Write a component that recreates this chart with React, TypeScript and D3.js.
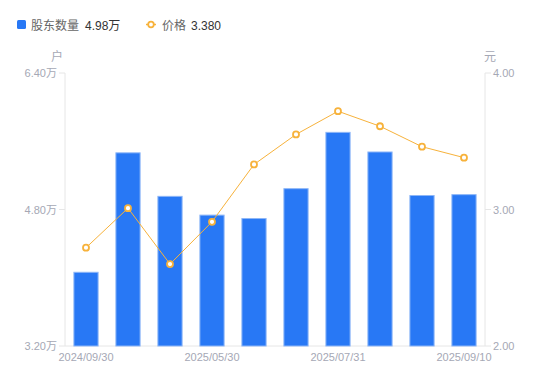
import React from "react";
import * as d3 from "d3";

const categories = [
  "2024/09/30", "2024/12/31", "2025/03/31", "2025/05/30", "2025/06/20",
  "2025/06/30", "2025/07/31", "2025/08/20", "2025/08/31", "2025/09/10",
];
const holders = [4.07, 5.47, 4.96, 4.74, 4.70, 5.05, 5.71, 5.48, 4.97, 4.98];
const prices = [2.72, 3.01, 2.60, 2.91, 3.33, 3.55, 3.72, 3.61, 3.46, 3.38];
const leftTicks = [3.2, 4.8, 6.4];
const rightTicks = [2.0, 3.0, 4.0];
const shownLabels = ["2024/09/30", "2025/05/30", "2025/07/31", "2025/09/10"];

const W = 550, H = 381;
const M = { left: 65, right: 65, top: 73, bottom: 35 };
const FONT = "'Liberation Sans', Arial, 'Noto Sans CJK SC', sans-serif";
const BLUE = "#2878f5";
const ORANGE = "#f7b23b";
const AXIS = "#e6e6e6";
const TICKTXT = "#a5a8b5";

export default function App() {
  const x = d3.scaleBand<string>().domain(categories).range([M.left, W - M.right]).paddingInner(0.4).paddingOuter(0.2);
  const yL = d3.scaleLinear().domain([3.2, 6.4]).range([H - M.bottom, M.top]);
  const yR = d3.scaleLinear().domain([2, 4]).range([H - M.bottom, M.top]);
  const bottom = H - M.bottom;
  const cx = (c: string) => (x(c) as number) + x.bandwidth() / 2;
  const line = d3.line<number>().x((_, i) => cx(categories[i])).y((d) => yR(d));

  return (
    <svg width={W} height={H} style={{ position: "absolute", left: 0, top: 0, fontFamily: FONT }}>
      <rect width={W} height={H} fill="#fff" />
      {/* legend */}
      <rect x={17} y={20} width={9} height={9} rx={1.5} fill={BLUE} />
      <text x={31} y={29.5} fontSize={12} fill="#666">股东数量</text>
      <text x={85} y={29.5} fontSize={12} fill="#333">4.98万</text>
      <line x1={146} x2={156} y1={24.5} y2={24.5} stroke={ORANGE} strokeWidth={1.5} />
      <circle cx={151} cy={24.5} r={2.8} fill="#fff" stroke={ORANGE} strokeWidth={1.8} />
      <text x={162} y={29.5} fontSize={12} fill="#666">价格</text>
      <text x={191} y={29.5} fontSize={12} fill="#333">3.380</text>

      {/* axis titles */}
      <text x={57} y={61} fontSize={12} fill={TICKTXT} textAnchor="middle">户</text>
      <text x={490} y={61} fontSize={12} fill={TICKTXT} textAnchor="middle">元</text>

      {/* axes */}
      <line x1={M.left} x2={M.left} y1={M.top} y2={bottom} stroke={AXIS} />
      <line x1={W - M.right} x2={W - M.right} y1={M.top} y2={bottom} stroke={AXIS} />
      <line x1={M.left} x2={W - M.right} y1={bottom} y2={bottom} stroke={AXIS} />
      {leftTicks.map((t) => (
        <g key={"l" + t}>
          <line x1={M.left - 6} x2={M.left} y1={yL(t)} y2={yL(t)} stroke={AXIS} />
          <text x={M.left - 8} y={yL(t) + 4} fontSize={11} fill={TICKTXT} textAnchor="end">
            {t.toFixed(2)}万
          </text>
        </g>
      ))}
      {rightTicks.map((t) => (
        <g key={"r" + t}>
          <line x1={W - M.right} x2={W - M.right + 6} y1={yR(t)} y2={yR(t)} stroke={AXIS} />
          <text x={W - M.right + 8} y={yR(t) + 4} fontSize={11} fill={TICKTXT} textAnchor="start">
            {t.toFixed(2)}
          </text>
        </g>
      ))}
      {categories.map((c) =>
        shownLabels.includes(c) ? (
          <text key={"x" + c} x={cx(c)} y={bottom + 15} fontSize={11} fill={TICKTXT} textAnchor="middle">
            {c}
          </text>
        ) : null
      )}

      {/* bars */}
      {holders.map((v, i) => (
        <rect
          key={"b" + i}
          x={(x(categories[i]) as number) + 0.5}
          y={yL(v) + 0.5}
          width={x.bandwidth() - 1}
          height={bottom - yL(v) - 0.5}
          fill={BLUE}
          stroke="#8db6f7"
          strokeWidth={1}
        />
      ))}

      {/* line */}
      <path d={line(prices) as string} fill="none" stroke={ORANGE} strokeWidth={1} />
      {prices.map((v, i) => (
        <circle key={"p" + i} cx={cx(categories[i])} cy={yR(v)} r={3} fill="#fff" stroke={ORANGE} strokeWidth={1.8} />
      ))}
    </svg>
  );
}
